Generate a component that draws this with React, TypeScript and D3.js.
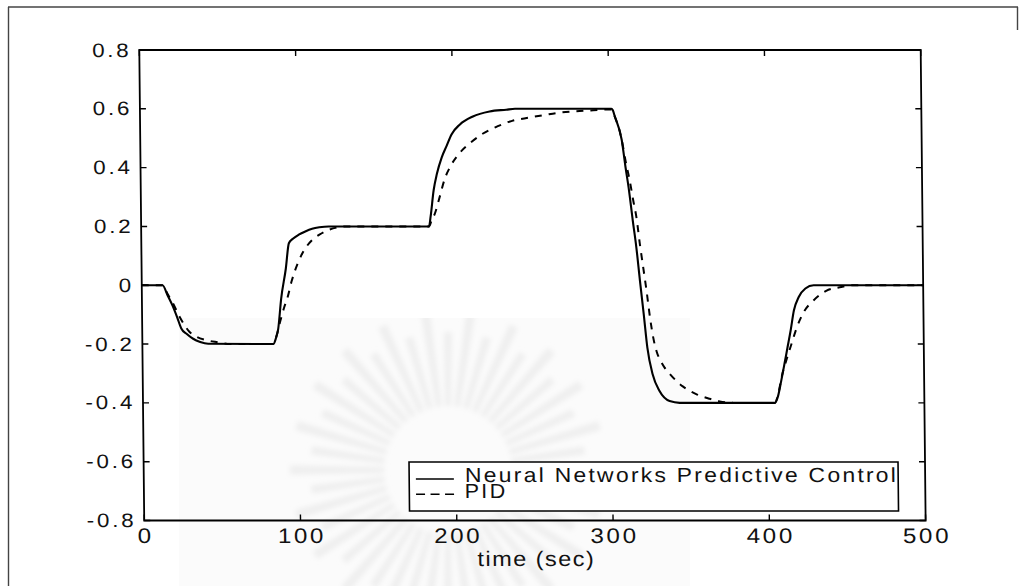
import React from 'react';
import * as d3 from 'd3';

// Step-response comparison: neural-network predictive control vs. PID
const nnpcTime = [
  0, 13.3, 16.5, 19.7, 22.5, 25, 28.5, 32.5, 37, 42.1, 83.8,
  85.5, 87, 89.1, 92.3, 94.4, 97, 100.8, 105, 109.4, 114, 120, 184.2,
  185.3, 187.4, 189.6, 192.8, 196, 199.2, 204.5, 213, 223.7, 234.4, 240, 301.7,
  302.6, 303.8, 308.1, 310.3, 312.4, 314.6, 316.7, 318.8, 321, 323.1, 326.3, 330.6, 337, 343.4, 404.3,
  406.4, 408.5, 410.7, 412.8, 414.9, 417.1, 420.3, 424.6, 429.9, 500,
];
const nnpcValue = [
  0, 0, -0.035, -0.071, -0.11, -0.147, -0.166, -0.182, -0.193, -0.199, -0.2,
  -0.18, -0.149, -0.046, 0.057, 0.143, 0.158, 0.172, 0.183, 0.192, 0.197, 0.2, 0.2,
  0.234, 0.323, 0.379, 0.435, 0.474, 0.513, 0.546, 0.574, 0.591, 0.597, 0.6, 0.6,
  0.595, 0.574, 0.494, 0.403, 0.323, 0.221, 0.13, 0.016, -0.098, -0.212, -0.303, -0.36, -0.394, -0.4, -0.4,
  -0.377, -0.326, -0.268, -0.211, -0.154, -0.086, -0.04, -0.011, 0, 0,
];

const pidTime = [
  0, 13.3, 16.5, 19.7, 23.9, 30.3, 35, 40.4, 48.5, 56, 83.8,
  86, 88.5, 91, 93, 96, 100, 103, 109.4, 114, 119, 126, 132, 184.2,
  186, 187.9, 191.1, 194.4, 198.6, 204.5, 211.4, 219.4, 228.5, 238.1, 248.8, 259, 268.6, 279.3, 290, 301.7,
  303.8, 308.1, 310.5, 312.9, 315, 317, 319, 321, 323, 325, 327, 329, 331.6, 334, 337.5, 345.5, 354, 362.6, 369, 378, 404.3,
  406.5, 409.1, 412.3, 415.5, 418.7, 423.3, 429.9, 437.9, 447.6, 455, 500,
];
const pidValue = [
  0, 0, -0.03, -0.06, -0.106, -0.159, -0.176, -0.186, -0.194, -0.2, -0.2,
  -0.17, -0.12, -0.075, -0.045, 0.015, 0.075, 0.109, 0.154, 0.172, 0.186, 0.197, 0.2, 0.2,
  0.222, 0.242, 0.298, 0.359, 0.407, 0.451, 0.485, 0.516, 0.54, 0.559, 0.57, 0.579, 0.587, 0.592, 0.595, 0.598,
  0.574, 0.494, 0.42, 0.357, 0.29, 0.23, 0.14, 0.06, -0.02, -0.11, -0.18, -0.225, -0.258, -0.28, -0.303, -0.344, -0.37, -0.386, -0.395, -0.4, -0.4,
  -0.37, -0.306, -0.249, -0.197, -0.146, -0.092, -0.051, -0.019, -0.006, 0, 0,
];

const xTicks = [0, 100, 200, 300, 400, 500];
const yTicks = [0.8, 0.6, 0.4, 0.2, 0, -0.2, -0.4, -0.6, -0.8];
const yTickLabels = ['0.8', '0.6', '0.4', '0.2', '0', '-0.2', '-0.4', '-0.6', '-0.8'];
const xAxisLabel = 'time (sec)';
const legendLabels = ['Neural Networks Predictive Control', 'PID'];

const W = 1019;
const H = 586;
const FONT = '"Liberation Sans", Arial, Helvetica, sans-serif';
const INK = '#111';

export default function App() {
  const x = d3.scaleLinear().domain([0, 500]).range([139.3, 920.7]);
  const y = d3.scaleLinear().domain([-0.8, 0.8]).range([520.5, 50]);

  const line = d3
    .line<[number, number]>()
    .x((d) => x(d[0]))
    .y((d) => y(d[1]))
    .curve(d3.curveMonotoneX);

  const nnpcPath = line(d3.zip(nnpcTime, nnpcValue) as [number, number][]) || '';
  const pidPath = line(d3.zip(pidTime, pidValue) as [number, number][]) || '';

  const [x0, x1] = x.range();
  const [yB, yT] = y.range();
  const tick = 6;

  // faint emblem in the background paper
  const cx = 448;
  const cy = 470;
  const rays = d3.range(44).map((i) => {
    const a = (i / 44) * Math.PI * 2;
    const r0 = 64;
    const r1 = i % 2 === 0 ? 158 : 138;
    const w0 = 0.045;
    const w1 = 0.03;
    const p = (r: number, da: number) =>
      `${cx + r * Math.cos(a + da)},${cy + r * Math.sin(a + da)}`;
    return `M${p(r0, -w0)}L${p(r1, -w1)}L${p(r1, w1)}L${p(r0, w0)}Z`;
  });

  return (
    <svg
      width={W}
      height={H}
      viewBox={`0 0 ${W} ${H}`}
      style={{ position: 'absolute', left: 0, top: 0, background: '#fff' }}
      fontFamily={FONT}
    >
      <defs>
        <clipPath id="wm-clip">
          <rect x={179} y={318} width={511} height={268} />
        </clipPath>
        <filter id="wm-blur" x="-10%" y="-10%" width="120%" height="120%">
          <feGaussianBlur stdDeviation={2.6} />
        </filter>
      </defs>

      <rect x={0} y={0} width={W} height={H} fill="#fff" />

      {/* watermark */}
      <g clipPath="url(#wm-clip)">
        <rect x={179} y={318} width={511} height={268} fill="#fbfbfb" />
        <g filter="url(#wm-blur)" fill="#efefef">
          {rays.map((d, i) => (
            <path key={i} d={d} />
          ))}
        </g>
      </g>

      {/* page frame */}
      <g stroke="#444" strokeWidth={1.4} fill="none">
        <line x1={8} y1={7} x2={1018} y2={7} />
        <line x1={8.5} y1={7} x2={8.5} y2={586} />
        <line x1={1017.5} y1={7} x2={1017.5} y2={30} />
      </g>

      <g transform="translate(0,50) skewX(0.6) translate(0,-50)">
        {/* curves */}
        <path d={pidPath} fill="none" stroke="#000" strokeWidth={2} strokeDasharray="7,7" />
        <path d={nnpcPath} fill="none" stroke="#000" strokeWidth={2.1} />

        {/* axes box */}
        <rect x={x0} y={yT} width={x1 - x0} height={yB - yT} fill="none" stroke="#000" strokeWidth={1.8} />

        {/* ticks */}
        <g stroke="#000" strokeWidth={1.4}>
          {xTicks.map((t) => (
            <g key={`xt${t}`}>
              <line x1={x(t)} x2={x(t)} y1={yB} y2={yB - tick} />
              <line x1={x(t)} x2={x(t)} y1={yT} y2={yT + tick} />
            </g>
          ))}
          {yTicks.map((v) => (
            <g key={`yt${v}`}>
              <line x1={x0} x2={x0 + tick} y1={y(v)} y2={y(v)} />
              <line x1={x1} x2={x1 - tick} y1={y(v)} y2={y(v)} />
            </g>
          ))}
        </g>

        {/* tick labels */}
        <g fill={INK} fontSize={19.5}>
          {yTicks.map((v, i) => (
            <text
              key={`yl${v}`}
              transform={`translate(131.5,${y(v) + 6.5}) scale(1.15,1)`}
              textAnchor="end"
              letterSpacing={2.4}
            >
              {yTickLabels[i]}
            </text>
          ))}
        </g>
        <g fill={INK} fontSize={21}>
          {xTicks.map((t) => (
            <text
              key={`xl${t}`}
              transform={`translate(${x(t) + 1.3},542.5) scale(1.15,1)`}
              textAnchor="middle"
              letterSpacing={2.3}
            >
              {String(t)}
            </text>
          ))}
        </g>

        {/* axis title */}
        <text
          transform={`translate(${(x0 + x1) / 2 + 1},566) scale(1.12,1)`}
          textAnchor="middle"
          fontSize={21}
          letterSpacing={1.3}
          fill={INK}
        >
          {xAxisLabel}
        </text>

        {/* legend */}
        <rect x={404.7} y={462} width={489} height={49} fill="#fff" stroke="#000" strokeWidth={1.6} />
        <line x1={411.4} x2={449.4} y1={479} y2={479} stroke="#000" strokeWidth={1.4} />
        <line
          x1={411.4}
          x2={449.4}
          y1={494.3}
          y2={494.3}
          stroke="#000"
          strokeWidth={1.4}
          strokeDasharray="9,5.5"
        />
        <text
          transform="translate(460.5,481.5) scale(1.12,1)"
          fontSize={20.5}
          letterSpacing={2}
          fill={INK}
        >
          {legendLabels[0]}
        </text>
        <text
          transform="translate(460,498) scale(1.05,1)"
          fontSize={20.5}
          letterSpacing={2.2}
          fill={INK}
        >
          {legendLabels[1]}
        </text>
      </g>
    </svg>
  );
}
